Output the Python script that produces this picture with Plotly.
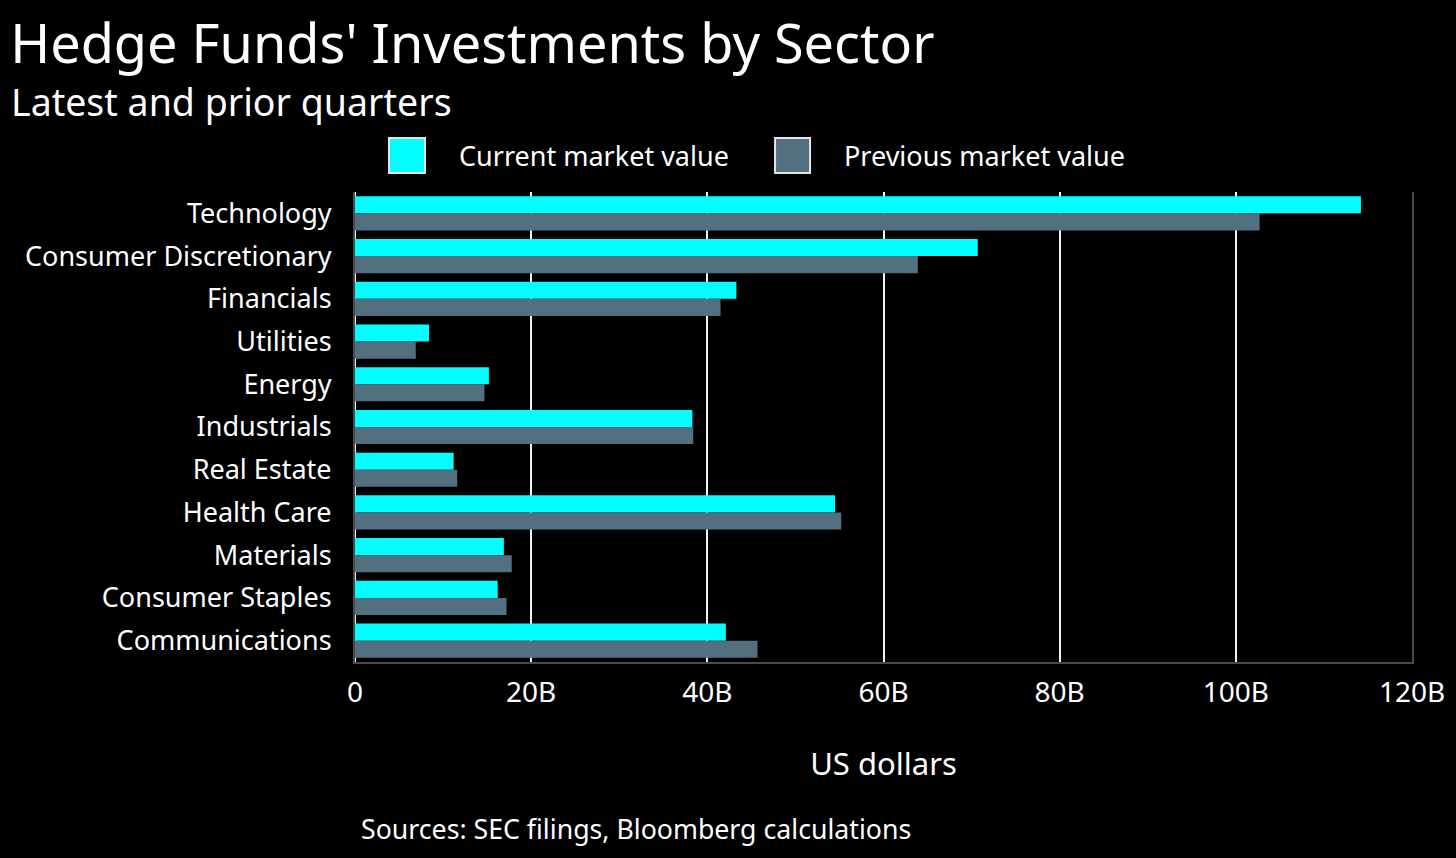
import plotly.graph_objects as go

# Sector values in billions of US dollars
sectors = [
    "Technology", "Consumer Discretionary", "Financials", "Utilities", "Energy",
    "Industrials", "Real Estate", "Health Care", "Materials", "Consumer Staples",
    "Communications",
]
current_value = [114.2, 70.7, 43.3, 8.4, 15.2, 38.3, 11.2, 54.5, 16.9, 16.2, 42.1]
previous_value = [102.7, 63.9, 41.5, 6.9, 14.7, 38.4, 11.6, 55.2, 17.8, 17.2, 45.7]

tick_vals = [0, 20, 40, 60, 80, 100, 120]
tick_text = ["0", "20B", "40B", "60B", "80B", "100B", "120B"]

CYAN = "#00FFFF"
SLATE = "#527080"
FONT = "Noto Sans"

fig = go.Figure()
fig.add_trace(go.Bar(
    y=sectors, x=current_value, orientation="h", name="Current market value",
    marker=dict(color=CYAN, line_width=0),
))
fig.add_trace(go.Bar(
    y=sectors, x=previous_value, orientation="h", name="Previous market value",
    marker=dict(color=SLATE, line_width=0),
))

# hand-made legend with big squares
legend_items = [
    (CYAN, "Current market value", 0.0322, 0.0662, 0.0965),
    (SLATE, "Previous market value", 0.3974, 0.4305, 0.4608),
]
for color, label, x0, x1, xt in legend_items:
    fig.add_shape(type="rect", xref="paper", yref="paper",
                  x0=x0, x1=x1, y0=1.0404, y1=1.1149,
                  fillcolor=color, line=dict(color="#e6e6e6", width=2))
    fig.add_annotation(text=label, xref="paper", yref="paper", x=xt, y=1.0766,
                       xanchor="left", yanchor="middle", showarrow=False,
                       font=dict(size=27, color="white", family=FONT))

fig.add_annotation(text="Latest and prior quarters", xref="paper", yref="paper",
                   x=-0.3273, y=1.1915, xanchor="left", yanchor="middle",
                   showarrow=False, font=dict(size=37.5, color="white", family=FONT))
fig.add_annotation(text="Sources: SEC filings, Bloomberg calculations",
                   xref="paper", yref="paper", x=0.004, y=-0.355,
                   xanchor="left", yanchor="middle", showarrow=False,
                   font=dict(size=26.7, color="white", family=FONT))

fig.update_layout(
    width=1456, height=858,
    paper_bgcolor="black", plot_bgcolor="black",
    font=dict(family=FONT, color="white"),
    title=dict(text="Hedge Funds' Investments by Sector", xref="container",
               x=0.007, y=1 - 44 / 858, xanchor="left", yanchor="middle",
               font=dict(size=54, color="white", family=FONT)),
    margin=dict(l=355, r=44, t=192, b=196),
    barmode="group", bargap=0.2, bargroupgap=0,
    showlegend=False,
)
fig.update_xaxes(
    range=[0, 120], tickvals=tick_vals, ticktext=tick_text,
    showgrid=True, gridcolor="#f2f2f2", gridwidth=2,
    zeroline=True, zerolinecolor="#f2f2f2", zerolinewidth=2,
    showline=True, linecolor="#4a4a4a", linewidth=2,
    ticks="outside", ticklen=4, tickcolor="black",
    tickfont=dict(size=28, color="white"),
    title=dict(text="US dollars", font=dict(size=31, color="white"), standoff=45),
)
fig.update_yaxes(
    autorange="reversed", showgrid=False,
    showline=True, mirror=True, linecolor="#4a4a4a", linewidth=2,
    ticks="outside", ticklen=16, tickcolor="black",
    tickfont=dict(size=27, color="white"),
)

fig.write_html(
    "out.html",
    config={"displayModeBar": False},
    post_script="document.body.style.margin='0';document.body.style.background='black';",
)
